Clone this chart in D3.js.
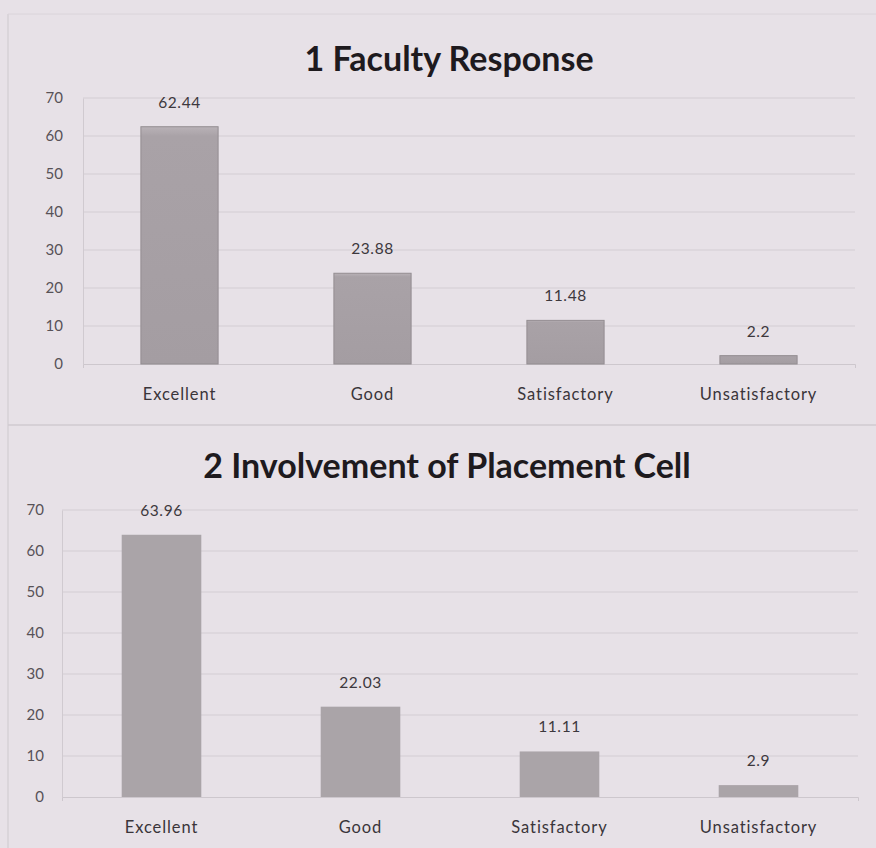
<!DOCTYPE html>
<html><head><meta charset="utf-8">
<script src="https://cdn.jsdelivr.net/npm/d3@7"></script>
<style>
html,body{margin:0;padding:0;background:#e7e1e7;}
svg{display:block;}
</style></head>
<body>
<script>
const categories = ["Excellent", "Good", "Satisfactory", "Unsatisfactory"];
const facultyValues = [62.44, 23.88, 11.48, 2.2];
const placementValues = [63.96, 22.03, 11.11, 2.9];
const yTicks = [0, 10, 20, 30, 40, 50, 60, 70];
const titles = ["1 Faculty Response", "2 Involvement of Placement Cell"];

const W = 876, H = 848;
const svg = d3.select("body").append("svg").attr("width", W).attr("height", H);
const font = "Lato, 'Open Sans', sans-serif";

const defs = svg.append("defs");
const grad = defs.append("linearGradient").attr("id", "barGrad").attr("x1", 0).attr("x2", 0).attr("y1", 0).attr("y2", 1);
grad.append("stop").attr("offset", "0%").attr("stop-color", "#b9b2b7");
grad.append("stop").attr("offset", "4%").attr("stop-color", "#a9a2a7");
grad.append("stop").attr("offset", "100%").attr("stop-color", "#a49da2");

// page frame lines
svg.append("line").attr("x1", 8).attr("x2", 8).attr("y1", 14).attr("y2", 848).attr("stroke", "#d6d0d6").attr("stroke-width", 1.5);
svg.append("line").attr("x1", 8).attr("x2", 876).attr("y1", 14).attr("y2", 14).attr("stroke", "#dad4da");
svg.append("line").attr("x1", 8).attr("x2", 876).attr("y1", 425).attr("y2", 425).attr("stroke", "#d0cad0").attr("stroke-width", 1.5);

function chart(cfg) {
  const g = svg.append("g");
  const x = d3.scaleBand().domain(categories).range([cfg.left, cfg.right]).paddingInner(0.6).paddingOuter(0.3);
  const y = d3.scaleLinear().domain([0, 70]).range([cfg.bottom, cfg.top]);

  g.append("text").attr("x", cfg.titleX).attr("y", cfg.titleY).attr("text-anchor", "middle")
    .attr("font-family", font).attr("font-weight", "bold").attr("font-size", cfg.titleSize)
    .attr("fill", "#1e1a1e").text(cfg.title);

  // gridlines
  g.selectAll(".grid").data(yTicks.filter(t => t > 0)).join("line")
    .attr("x1", cfg.left).attr("x2", cfg.right)
    .attr("y1", d => y(d)).attr("y2", d => y(d))
    .attr("stroke", "#d3cdd3").attr("stroke-width", 1.2);

  // y axis
  const yAxis = d3.axisLeft(y).tickValues(yTicks).tickSize(0).tickPadding(cfg.tickPad);
  const ya = g.append("g").attr("transform", `translate(${cfg.left},0)`).call(yAxis);
  ya.select(".domain").attr("stroke", "#d0cad0");
  ya.selectAll("text").attr("font-family", font).attr("font-size", 15).attr("fill", "#575257");

  // x axis
  const xAxis = d3.axisBottom(x).tickSize(4).tickPadding(20);
  const xa = g.append("g").attr("transform", `translate(0,${cfg.bottom})`).call(xAxis);
  xa.select(".domain").attr("stroke", "#cdc7cd");
  xa.selectAll(".tick line").remove();
  xa.selectAll("text").attr("font-family", font).attr("font-size", 16.5)
    .attr("letter-spacing", "0.9px").attr("fill", "#3a353a");

  g.selectAll(".bar").data(cfg.values).join("rect")
    .attr("x", (d, i) => x(categories[i]))
    .attr("width", x.bandwidth())
    .attr("y", d => y(d))
    .attr("height", d => y(0) - y(d))
    .attr("fill", cfg.fill)
    .attr("stroke", cfg.stroke)
    .attr("stroke-width", 1);

  g.selectAll(".val").data(cfg.values).join("text")
    .attr("x", (d, i) => x(categories[i]) + x.bandwidth() / 2)
    .attr("y", d => y(d) - 19)
    .attr("text-anchor", "middle")
    .attr("font-family", font).attr("font-size", 15.5).attr("letter-spacing", "0.6px").attr("fill", "#3d383d")
    .text(d => d);
}

chart({
  title: titles[0], titleX: 449, titleY: 71, titleSize: 34,
  values: facultyValues, left: 83, right: 855, top: 98, bottom: 364,
  tickPad: 20, fill: "url(#barGrad)", stroke: "#938d91"
});
chart({
  title: titles[1], titleX: 447, titleY: 478, titleSize: 34,
  values: placementValues, left: 62, right: 858, top: 510, bottom: 797,
  tickPad: 18, fill: "#aaa4a8", stroke: "none"
});
</script>
</body></html>
